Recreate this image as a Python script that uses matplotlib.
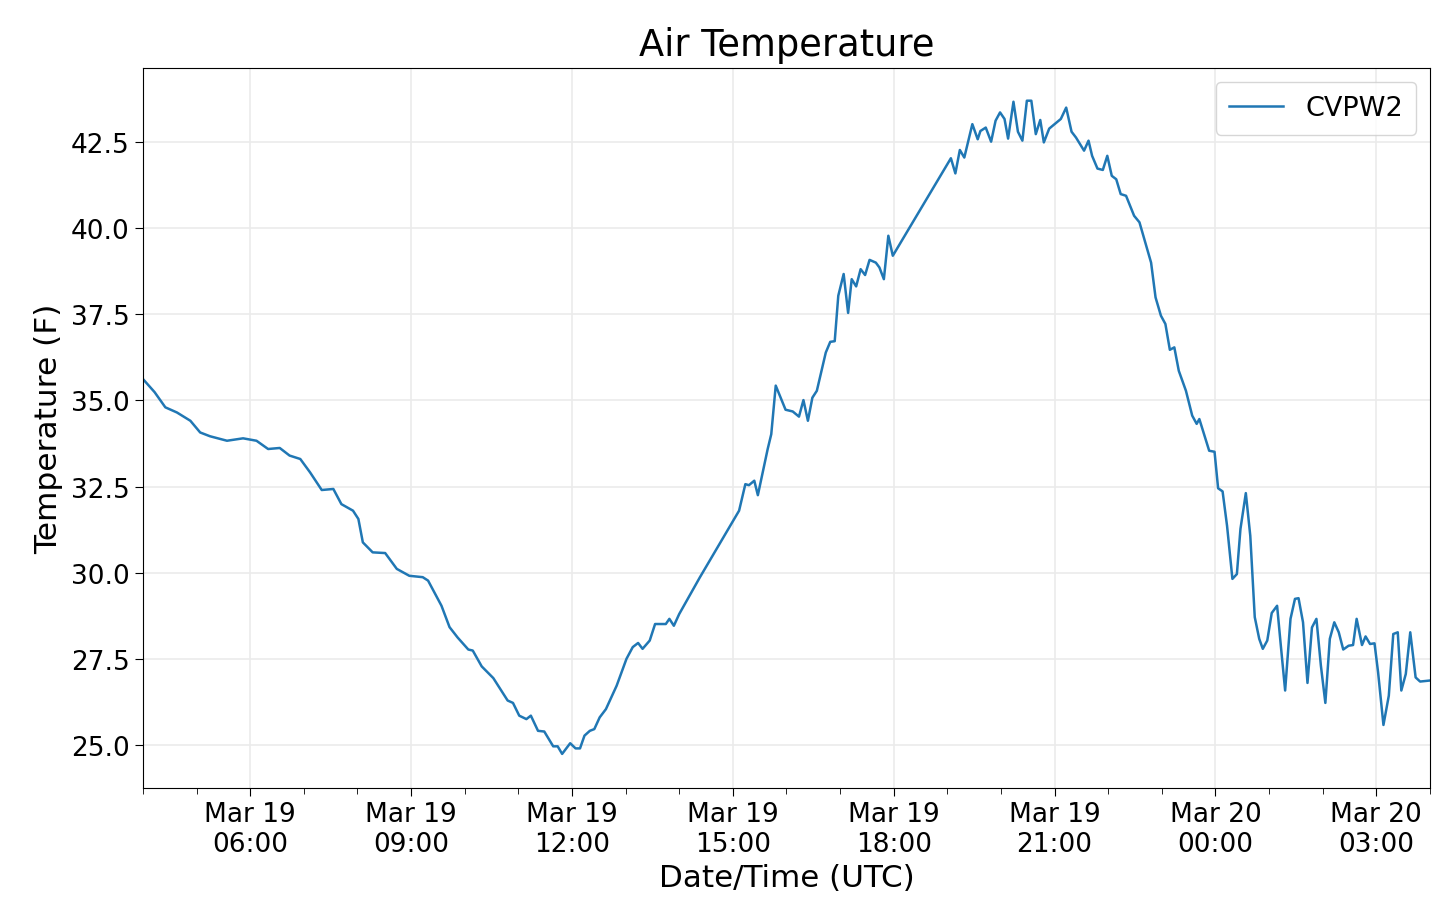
import numpy as np
import matplotlib
matplotlib.use('Agg')
from matplotlib import pyplot as plt
import matplotlib.dates as mdates

# station / series
station = 'CVPW2'
start = np.datetime64('2019-03-19T04:00')
end = np.datetime64('2019-03-20T04:00')

# minutes after start
minutes = [
    0, 13, 25, 38, 53, 64, 75, 94, 112, 127, 140, 153, 164, 176, 187, 200,
    213, 222, 235, 241, 246, 257, 271, 284, 298, 313, 319, 334, 343, 352, 364,
    369, 379, 392, 408, 414, 421, 429, 434, 442, 449, 459, 464, 469, 478, 484,
    489, 494, 500, 505, 511, 518, 530, 541, 548, 554, 559, 567, 573, 585, 589,
    594, 600, 623, 667, 674, 678, 684, 688, 699, 703, 708, 719, 727, 734, 739,
    744, 749, 754, 764, 769, 774, 778, 784, 789, 793, 798, 803, 808, 813, 820,
    824, 829, 834, 839, 904, 909, 914, 919, 928, 934, 937, 943, 949, 954, 959,
    964, 968, 974, 979, 984, 989, 994, 999, 1004, 1008, 1014, 1027, 1033, 1039,
    1044, 1053, 1058, 1062, 1068, 1074, 1079, 1084, 1089, 1094, 1100, 1109,
    1115, 1128, 1133, 1139, 1144, 1149, 1154, 1159, 1167, 1174, 1179, 1182,
    1193, 1199, 1203, 1208, 1213, 1219, 1224, 1228, 1234, 1239, 1244, 1249,
    1253, 1258, 1263, 1269, 1273, 1278, 1284, 1289, 1293, 1298, 1303, 1308,
    1313, 1318, 1323, 1328, 1333, 1338, 1343, 1349, 1354, 1358, 1364, 1368,
    1373, 1378, 1382, 1388, 1394, 1399, 1404, 1408, 1413, 1418, 1424, 1429,
    1440,
]

# air temperature (F)
temps = [
    35.62, 35.24, 34.80, 34.65, 34.41, 34.07, 33.96, 33.83, 33.90, 33.83,
    33.59, 33.62, 33.40, 33.30, 32.91, 32.40, 32.43, 31.99, 31.80, 31.56,
    30.88, 30.59, 30.57, 30.11, 29.91, 29.87, 29.77, 29.04, 28.42, 28.12,
    27.77, 27.74, 27.28, 26.94, 26.29, 26.22, 25.85, 25.75, 25.85, 25.41,
    25.39, 24.96, 24.96, 24.74, 25.05, 24.90, 24.90, 25.27, 25.41, 25.46,
    25.80, 26.04, 26.72, 27.50, 27.84, 27.96, 27.79, 28.03, 28.51, 28.51,
    28.66, 28.46, 28.80, 29.86, 31.80, 32.57, 32.54, 32.67, 32.25, 33.59,
    34.02, 35.43, 34.73, 34.68, 34.53, 35.01, 34.41, 35.08, 35.28, 36.39,
    36.70, 36.72, 38.04, 38.67, 37.54, 38.52, 38.31, 38.81, 38.64, 39.08,
    39.00, 38.86, 38.52, 39.78, 39.20, 42.03, 41.59, 42.27, 42.05, 43.02,
    42.58, 42.82, 42.92, 42.51, 43.12, 43.36, 43.17, 42.60, 43.67, 42.80,
    42.54, 43.70, 43.70, 42.73, 43.14, 42.49, 42.89, 43.17, 43.50, 42.80,
    42.63, 42.25, 42.54, 42.10, 41.73, 41.69, 42.10, 41.52, 41.42, 40.99,
    40.94, 40.36, 40.17, 39.00, 37.99, 37.46, 37.22, 36.47, 36.54, 35.86,
    35.28, 34.56, 34.32, 34.46, 33.54, 33.51, 32.45, 32.36, 31.36, 29.82,
    29.96, 31.27, 32.31, 31.07, 28.71, 28.08, 27.79, 28.03, 28.83, 29.04,
    27.93, 26.58, 28.66, 29.24, 29.26, 28.56, 26.80, 28.41, 28.66, 27.30,
    26.22, 28.08, 28.56, 28.27, 27.77, 27.88, 27.90, 28.66, 27.90, 28.15,
    27.93, 27.95, 27.11, 25.58, 26.43, 28.22, 28.27, 26.58, 27.06, 28.27,
    26.96, 26.84, 26.87,
]

times = start + np.array(minutes).astype('timedelta64[m]')

fig = plt.figure(figsize=(14.4, 9.04), dpi=100)
ax = fig.add_axes([0.0993, 0.1272, 0.8937, 0.7965])

ax.plot(times, temps, color='#2077b4', linewidth=1.8, label=station)

ax.set_xlim(start, end)
ax.set_ylim(23.75, 44.65)
ax.set_yticks(np.arange(25.0, 43.0, 2.5))
ax.yaxis.set_major_formatter(plt.FormatStrFormatter('%.1f'))

ax.xaxis.set_major_locator(mdates.HourLocator(byhour=range(0, 24, 3)))
ax.xaxis.set_minor_locator(mdates.HourLocator())
ax.xaxis.set_major_formatter(mdates.DateFormatter('%b %d\n%H:%M'))

ax.tick_params(axis='both', which='major', labelsize=19, length=6)
ax.tick_params(axis='x', which='minor', length=4)

ax.grid(True, which='major', color='#ebebeb', linewidth=1.2)
ax.set_axisbelow(True)

ax.set_title('Air Temperature', fontsize=26.5, pad=9)
ax.set_xlabel('Date/Time (UTC)', fontsize=22.3)
ax.set_ylabel('Temperature (F)', fontsize=22.5, labelpad=6)
ax.legend(loc='upper right', fontsize=19.5, borderpad=0.5, handletextpad=0.8)

plt.savefig('out.png', dpi=100)
